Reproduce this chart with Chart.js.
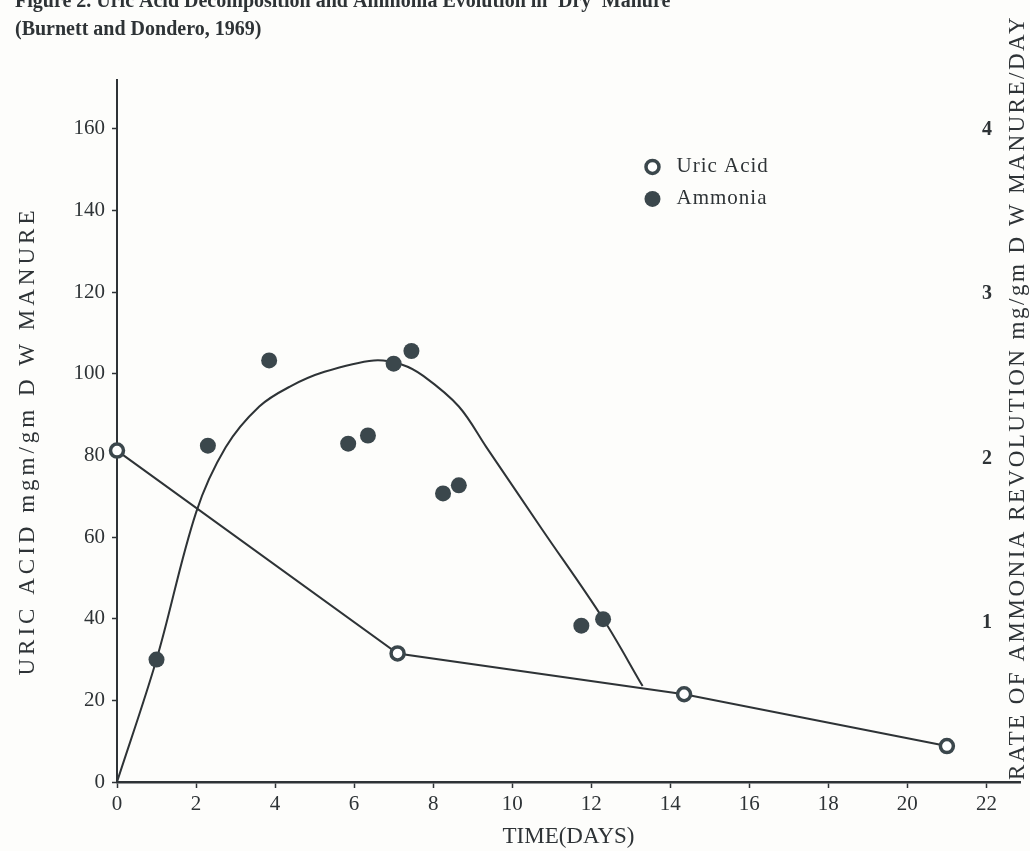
<!DOCTYPE html>
<html>
<head>
<meta charset="utf-8">
<title>Uric Acid Decomposition and Ammonia Evolution in 'Dry' Manure</title>
<script src="https://cdn.jsdelivr.net/npm/chart.js@4.4.1/dist/chart.umd.min.js"></script>
<style>
  html, body { margin: 0; padding: 0; background: #fdfdfb; }
  #wrap { width: 1030px; height: 851px; overflow: hidden; position: relative; }
  #chart { position: absolute; left: 0; top: -10px; }
</style>
</head>
<body>
<div id="wrap"><canvas id="chart" width="1030" height="861"></canvas></div>
<script>
// Uric acid (open circles, joined with straight lines)
const uricDays = [0, 7.1, 14.35, 21];
const uricValues = [81.2, 31.5, 21.5, 8.8];

// Ammonia measurements (filled dots)
const ammoniaDays = [1.0, 2.3, 3.85, 5.85, 6.35, 7.0, 7.45, 8.25, 8.65, 11.75, 12.3];
const ammoniaValues = [30, 82.4, 103.3, 82.9, 84.9, 102.5, 105.6, 70.7, 72.7, 38.3, 39.9];

// hand drawn curve through the ammonia points
const curveDays = [0, 1.0, 2.0, 2.75, 3.6, 4.4, 5.25, 6.5, 7.2, 7.75, 8.65, 9.35, 10.75, 12.3, 13.3];
const curveValues = [0, 30, 66, 82, 92, 97, 100.5, 103.3, 102.3, 99.5, 92, 82, 62, 40, 23.5];

// axes
const dayRange = [0, 22.85];
const dayStep = 2;
const uricRange = [0, 172];
const uricStep = 20;
const rateRange = [0.034, 4.3];
const rateStep = 1;

const titleText = "Figure 2. Uric Acid Decomposition and Ammonia Evolution in 'Dry' Manure";
const subtitleText = '(Burnett and Dondero, 1969)';
const xTitle = 'TIME(DAYS)';
const leftTitle = 'URIC ACID mgm/gm D W MANURE';
const rightTitle = 'RATE OF AMMONIA REVOLUTION mg/gm D W MANURE/DAY';

const ink = '#2e3336';
const dotInk = '#3b474c';
const serif = "'Liberation Serif', 'Times New Roman', serif";

const toPoints = (xs, ys) => xs.map((x, i) => ({ x: x, y: ys[i] }));

// paper background
const paper = {
  id: 'paper',
  beforeDraw(chart) {
    const ctx = chart.ctx;
    ctx.save();
    ctx.fillStyle = '#fdfdfb';
    ctx.fillRect(0, 0, chart.width, chart.height);
    ctx.restore();
  }
};

// vertical axis titles, both reading bottom to top
const sideTitles = {
  id: 'sideTitles',
  afterDraw(chart) {
    const ctx = chart.ctx;
    const area = chart.chartArea;
    ctx.save();
    ctx.fillStyle = ink;
    ctx.font = '23px ' + serif;
    ctx.textBaseline = 'middle';

    ctx.save();
    ctx.letterSpacing = '4px';
    ctx.translate(28, (area.top + area.bottom) / 2 + 10);
    ctx.rotate(-Math.PI / 2);
    ctx.textAlign = 'center';
    ctx.fillText(leftTitle, 0, 0);
    ctx.restore();

    ctx.save();
    ctx.letterSpacing = '2.5px';
    ctx.translate(1018, area.bottom - 2);
    ctx.rotate(-Math.PI / 2);
    ctx.textAlign = 'left';
    ctx.fillText(rightTitle, 0, 0);
    ctx.restore();

    ctx.restore();
  }
};

// legend inside the plot
const innerLegend = {
  id: 'innerLegend',
  afterDraw(chart) {
    const ctx = chart.ctx;
    const x = chart.scales.x.getPixelForValue(13.55);
    let y = chart.scales.y.getPixelForValue(150.7);
    ctx.save();
    ctx.font = '21px ' + serif;
    ctx.letterSpacing = '1px';
    ctx.textBaseline = 'middle';
    ctx.textAlign = 'left';
    [0, 1].forEach(i => {
      const ds = chart.data.datasets[i];
      ctx.beginPath();
      ctx.arc(x, y, ds.pointRadius, 0, Math.PI * 2);
      ctx.fillStyle = ds.pointBackgroundColor;
      ctx.fill();
      if (ds.pointBorderWidth) {
        ctx.lineWidth = ds.pointBorderWidth;
        ctx.strokeStyle = ds.pointBorderColor;
        ctx.stroke();
      }
      ctx.fillStyle = ink;
      ctx.fillText(ds.label, x + 24, y);
      y += 32;
    });
    ctx.restore();
  }
};

new Chart(document.getElementById('chart'), {
  type: 'scatter',
  data: {
    datasets: [
      {
        label: 'Uric Acid',
        data: toPoints(uricDays, uricValues),
        showLine: true,
        tension: 0,
        borderColor: ink,
        borderWidth: 2,
        pointRadius: 6.5,
        pointBorderWidth: 3.5,
        pointBackgroundColor: '#ffffff',
        pointBorderColor: dotInk,
        clip: false,
        order: 0
      },
      {
        label: 'Ammonia',
        data: toPoints(ammoniaDays, ammoniaValues),
        showLine: false,
        pointRadius: 8,
        pointBorderWidth: 0,
        pointBackgroundColor: dotInk,
        pointBorderColor: dotInk,
        clip: false,
        order: 1
      },
      {
        label: 'Ammonia curve',
        data: toPoints(curveDays, curveValues),
        showLine: true,
        tension: 0.35,
        borderColor: ink,
        borderWidth: 2,
        pointRadius: 0,
        clip: false,
        order: 2
      }
    ]
  },
  options: {
    responsive: false,
    devicePixelRatio: 1,
    animation: false,
    events: [],
    layout: { padding: { left: 15, right: 0, top: 0, bottom: 0 } },
    plugins: {
      legend: { display: false },
      tooltip: { enabled: false },
      title: {
        display: true,
        text: titleText,
        align: 'start',
        color: ink,
        font: { family: serif, size: 20, weight: 'bold', lineHeight: 1.2 },
        padding: { top: 0, bottom: 0 }
      },
      subtitle: {
        display: true,
        text: subtitleText,
        align: 'start',
        color: ink,
        font: { family: serif, size: 20, weight: 'bold', lineHeight: 1.2 },
        padding: { top: 4, bottom: 38 }
      }
    },
    scales: {
      x: {
        type: 'linear',
        position: 'bottom',
        min: dayRange[0],
        max: dayRange[1],
        ticks: {
          stepSize: dayStep,
          includeBounds: false,
          autoSkip: false,
          maxRotation: 0,
          padding: 4,
          color: ink,
          font: { family: serif, size: 21 }
        },
        grid: { drawOnChartArea: false, drawTicks: true, tickLength: 6, tickColor: ink, tickWidth: 1.5 },
        border: { display: true, color: ink, width: 2.5 },
        title: {
          display: true,
          text: xTitle,
          color: ink,
          font: { family: serif, size: 23 },
          padding: { top: 0, bottom: 0 }
        },
        afterFit(scale) { scale.height = 69; }
      },
      y: {
        type: 'linear',
        position: 'left',
        min: uricRange[0],
        max: uricRange[1],
        ticks: {
          stepSize: uricStep,
          includeBounds: false,
          padding: 7,
          color: ink,
          font: { family: serif, size: 21 }
        },
        grid: { drawOnChartArea: false, drawTicks: true, tickLength: 5, tickColor: ink, tickWidth: 1.5 },
        border: { display: true, color: ink, width: 2 },
        title: { display: false },
        afterFit(scale) { scale.width = 102; }
      },
      y2: {
        type: 'linear',
        position: 'right',
        min: rateRange[0],
        max: rateRange[1],
        ticks: {
          stepSize: rateStep,
          includeBounds: false,
          mirror: true,
          padding: -28,
          color: ink,
          font: { family: serif, size: 20, weight: 'bold' }
        },
        grid: { display: false, drawTicks: false },
        border: { display: false },
        title: { display: false },
        afterFit(scale) { scale.width = 0; }
      }
    }
  },
  plugins: [paper, sideTitles, innerLegend]
});
</script>
</body>
</html>
